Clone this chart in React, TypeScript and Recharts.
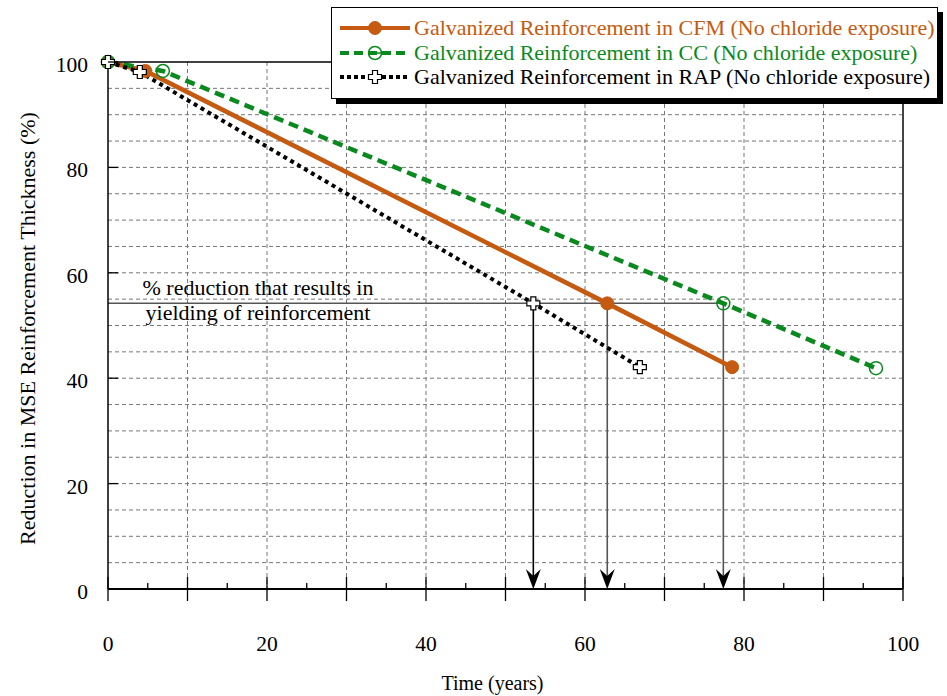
import React from 'react';
import {
  LineChart,
  Line,
  XAxis,
  YAxis,
  CartesianGrid,
  ReferenceLine,
  Legend,
} from 'recharts';

// values (years, % thickness)
const cfmYears = [0, 4.7, 62.8, 78.5];
const cfmThickness = [100, 98.3, 54.2, 42.1];
const ccYears = [0, 6.9, 77.4, 96.6];
const ccThickness = [100, 98.3, 54.2, 41.9];
const rapYears = [0, 4.0, 53.5, 66.9];
const rapThickness = [100, 98.1, 54.2, 42.1];

const yieldLevel = 54.2;
const yieldYears = [53.5, 62.8, 77.4];

const seriesNames = [
  'Galvanized Reinforcement in CFM (No chloride exposure)',
  'Galvanized Reinforcement in CC (No chloride exposure)',
  'Galvanized Reinforcement in RAP (No chloride exposure)',
];
const annotationLines = ['% reduction that results in', 'yielding of reinforcement'];

const xTicks = [0, 5, 10, 15, 20, 25, 30, 35, 40, 45, 50, 55, 60, 65, 70, 75, 80, 85, 90, 95, 100];
const yTicks = [0, 20, 40, 60, 80, 100];
const vGrid = [10, 20, 30, 40, 50, 60, 70, 80, 90];
const hGrid = [5, 10, 15, 20, 25, 30, 35, 40, 45, 50, 55, 60, 65, 70, 75, 80, 85, 90, 95];

const toRows = (xs: number[], ys: number[]) => xs.map((year, i) => ({ year, t: ys[i] }));
const cfmData = toRows(cfmYears, cfmThickness);
const ccData = toRows(ccYears, ccThickness);
const rapData = toRows(rapYears, rapThickness);

const FONT = '"Liberation Serif", "Times New Roman", serif';
const ORANGE = '#c55a11';
const GREEN = '#0a8a1e';

function BottomTick({ x, y, payload }: any) {
  const v = payload.value;
  const major = v % 10 === 0;
  return (
    <g>
      <line x1={x} x2={x} y1={major ? y - 12 : y - 6} y2={major ? y + 12 : y} stroke="#000" strokeWidth={1.3} />
      {v % 20 === 0 && (
        <text x={x} y={y + 62} textAnchor="middle" fontSize={21.5} fontFamily={FONT} fill="#000">
          {v}
        </text>
      )}
    </g>
  );
}

function TopTick({ x, y, payload }: any) {
  const v = payload.value;
  const major = v % 10 === 0;
  return <line x1={x} x2={x} y1={major ? y - 12 : y} y2={major ? y + 8 : y + 6} stroke="#000" strokeWidth={1.3} />;
}

function LeftTick({ x, y, payload }: any) {
  return (
    <g>
      <line x1={x} x2={x + 10} y1={y} y2={y} stroke="#000" strokeWidth={1.3} />
      <text x={x - 20} y={y + 10} textAnchor="end" fontSize={21.5} fontFamily={FONT} fill="#000">
        {payload.value}
      </text>
    </g>
  );
}

function RightTick({ x, y }: any) {
  return <line x1={x - 10} x2={x} y1={y} y2={y} stroke="#000" strokeWidth={1.5} />;
}

function XTitle({ viewBox }: any) {
  return (
    <text x={viewBox.x + viewBox.width / 2 - 13} y={viewBox.y + 101} textAnchor="middle" fontSize={20} fontFamily={FONT} fill="#000">
      Time (years)
    </text>
  );
}

function YTitle({ viewBox }: any) {
  const cx = viewBox.x - 21;
  const cy = viewBox.y + viewBox.height / 2 + 3;
  return (
    <text x={cx} y={cy} transform={`rotate(-90 ${cx} ${cy})`} textAnchor="middle" dominantBaseline="central" fontSize={22} fontFamily={FONT} fill="#000">
      Reduction in MSE Reinforcement Thickness (%)
    </text>
  );
}

function AnnotationLabel({ viewBox }: any) {
  const cx = viewBox.x + 150;
  return (
    <g>
      <text x={cx} y={viewBox.y - 8} textAnchor="middle" fontSize={22} fontFamily={FONT} fill="#000">
        {annotationLines[0]}
      </text>
      <text x={cx} y={viewBox.y + 17} textAnchor="middle" fontSize={22} fontFamily={FONT} fill="#000">
        {annotationLines[1]}
      </text>
    </g>
  );
}

function arrowShape(color: string) {
  return (p: any) => {
    const top = Math.min(p.y1, p.y2);
    const tip = Math.max(p.y1, p.y2);
    const x = p.x1;
    return (
      <g>
        <line x1={x} x2={x} y1={top} y2={tip - 10} stroke={color} strokeWidth={1.6} />
        <path d={`M${x},${tip} L${x - 7.5},${tip - 20} L${x},${tip - 13} L${x + 7.5},${tip - 20} Z`} fill="#000" />
      </g>
    );
  };
}

function FilledCircle({ cx, cy }: any) {
  return <circle cx={cx} cy={cy} r={6.5} fill={ORANGE} stroke={ORANGE} strokeWidth={1} />;
}

function OpenCircle({ cx, cy }: any) {
  return <circle cx={cx} cy={cy} r={6.5} fill="none" stroke={GREEN} strokeWidth={1.5} />;
}

function PlusMarker({ cx, cy }: any) {
  const a = 6.5;
  const b = 2.5;
  const d = `M${cx - b},${cy - a} H${cx + b} V${cy - b} H${cx + a} V${cy + b} H${cx + b} V${cy + a} H${cx - b} V${cy + b} H${cx - a} V${cy - b} H${cx - b} Z`;
  return <path d={d} fill="#fff" stroke="#000" strokeWidth={1.2} />;
}

const legendRows = [
  { name: seriesNames[0], color: ORANGE, dash: undefined, marker: FilledCircle },
  { name: seriesNames[1], color: GREEN, dash: '9 5', marker: OpenCircle },
  { name: seriesNames[2], color: '#000', dash: '4 3', marker: PlusMarker },
];

function ChartLegend() {
  return (
    <div
      style={{
        border: '1.5px solid #000',
        boxShadow: '5px 5px 0 #000',
        background: '#fff',
        padding: '8px 2px 8px 7px',
        boxSizing: 'border-box',
        width: 607,
      }}
    >
      {legendRows.map((r) => {
        const M = r.marker;
        return (
          <div key={r.name} style={{ display: 'flex', alignItems: 'center', height: 24.5 }}>
            <svg width={72} height={20} style={{ flex: 'none' }}>
              <line x1={1} x2={71} y1={10} y2={10} stroke={r.color} strokeWidth={4} strokeDasharray={r.dash} />
              {r.name === seriesNames[1] && <line x1={30} x2={42} y1={10} y2={10} stroke={GREEN} strokeWidth={1.5} />}
              <M cx={36} cy={10} />
            </svg>
            <span style={{ marginLeft: 3, fontSize: 22, fontFamily: FONT, color: r.color, whiteSpace: 'nowrap', lineHeight: '24px' }}>
              {r.name}
            </span>
          </div>
        );
      })}
    </div>
  );
}

export default function App() {
  return (
    <div style={{ position: 'absolute', left: 0, top: 0, width: 947, height: 696, background: '#fff', fontFamily: FONT }}>
      <LineChart width={947} height={696} margin={{ top: 52, right: 34, bottom: 47, left: 48 }}>
        <CartesianGrid
          stroke="#777"
          strokeDasharray="4 3"
          strokeWidth={1}
          verticalValues={vGrid}
          horizontalValues={hGrid}
        />
        <XAxis
          dataKey="year"
          type="number"
          domain={[0, 100]}
          ticks={xTicks}
          interval={0}
          tickSize={0}
          tickMargin={0}
          tickLine={false}
          tick={<BottomTick />}
          axisLine={{ stroke: '#000', strokeWidth: 2 }}
          height={60}
          label={<XTitle />}
        />
        <XAxis
          xAxisId="top"
          orientation="top"
          type="number"
          domain={[0, 100]}
          ticks={xTicks}
          interval={0}
          tickSize={0}
          tickMargin={0}
          tickLine={false}
          tick={<TopTick />}
          axisLine={{ stroke: '#000', strokeWidth: 1.5 }}
          height={10}
        />
        <YAxis
          type="number"
          domain={[0, 100]}
          ticks={yTicks}
          interval={0}
          tickSize={0}
          tickMargin={0}
          tickLine={false}
          tick={<LeftTick />}
          axisLine={{ stroke: '#000', strokeWidth: 1.5 }}
          width={60}
          label={<YTitle />}
        />
        <YAxis
          yAxisId="right"
          orientation="right"
          type="number"
          domain={[0, 100]}
          ticks={yTicks}
          interval={0}
          tickSize={0}
          tickMargin={0}
          tickLine={false}
          tick={<RightTick />}
          axisLine={{ stroke: '#444', strokeWidth: 2 }}
          width={10}
        />
        <ReferenceLine
          segment={[
            { x: 0, y: yieldLevel },
            { x: Math.max(...yieldYears), y: yieldLevel },
          ]}
          stroke="#555"
          strokeWidth={1.5}
          label={<AnnotationLabel />}
        />
        {yieldYears.map((yr, i) => (
          <ReferenceLine
            key={yr}
            segment={[
              { x: yr, y: yieldLevel },
              { x: yr, y: 0 },
            ]}
            shape={arrowShape(i === 0 ? '#000' : '#555')}
          />
        ))}
        <Line
          data={cfmData}
          dataKey="t"
          stroke={ORANGE}
          strokeWidth={4.5}
          isAnimationActive={false}
          activeDot={false}
          dot={(p: any) => <FilledCircle key={`cfm-${p.index}`} cx={p.cx} cy={p.cy} />}
        />
        <Line
          data={ccData}
          dataKey="t"
          stroke={GREEN}
          strokeWidth={4.5}
          strokeDasharray="10 6"
          isAnimationActive={false}
          activeDot={false}
          dot={(p: any) => <OpenCircle key={`cc-${p.index}`} cx={p.cx} cy={p.cy} />}
        />
        <Line
          data={rapData}
          dataKey="t"
          stroke="#000"
          strokeWidth={4}
          strokeDasharray="4 4"
          isAnimationActive={false}
          activeDot={false}
          dot={(p: any) => <PlusMarker key={`rap-${p.index}`} cx={p.cx} cy={p.cy} />}
        />
        <Legend
          layout="vertical"
          align="center"
          verticalAlign="middle"
          wrapperStyle={{ left: 331, top: 7, width: 607, right: 'auto', bottom: 'auto' }}
          content={<ChartLegend />}
        />
      </LineChart>
    </div>
  );
}
